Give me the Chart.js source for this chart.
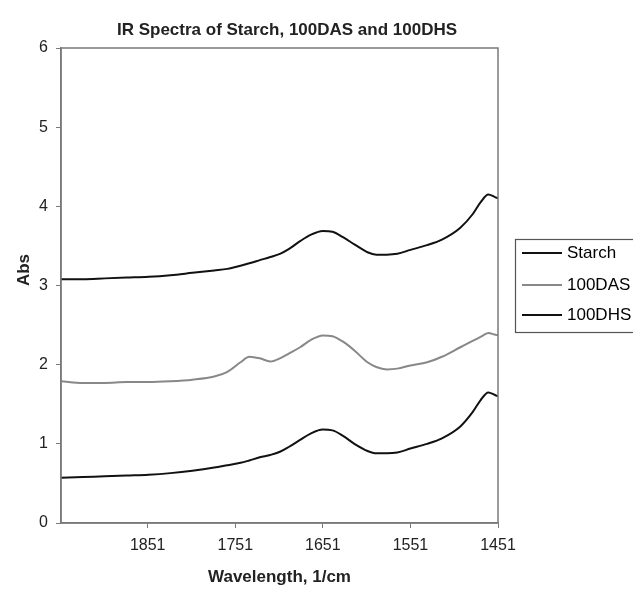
<!DOCTYPE html>
<html>
<head>
<meta charset="utf-8">
<script src="https://cdn.jsdelivr.net/npm/chart.js@4.4.1/dist/chart.umd.min.js"></script>
<style>
  html, body { margin: 0; padding: 0; background: #fff; }
  #wrap { width: 633px; height: 593px; }
</style>
</head>
<body>
<div id="wrap"><canvas id="irChart" width="633" height="593"></canvas></div>
<script>
// wavenumbers (1/cm)
var wavenumbers = [1950, 1925, 1900, 1875, 1850, 1825, 1800, 1775, 1760, 1745, 1735, 1723, 1711, 1700, 1690, 1677, 1665, 1651, 1640, 1628, 1615, 1600, 1590, 1578, 1566, 1551, 1532, 1515, 1494, 1480, 1471, 1462, 1455, 1451];
var starch = [3.08, 3.08, 3.09, 3.10, 3.11, 3.13, 3.16, 3.19, 3.21, 3.25, 3.28, 3.32, 3.36, 3.40, 3.46, 3.56, 3.64, 3.69, 3.68, 3.61, 3.52, 3.42, 3.39, 3.39, 3.40, 3.45, 3.51, 3.58, 3.73, 3.90, 4.05, 4.15, 4.12, 4.10];
var das100 = [1.79, 1.77, 1.77, 1.78, 1.78, 1.79, 1.81, 1.85, 1.91, 2.03, 2.10, 2.08, 2.04, 2.08, 2.14, 2.22, 2.31, 2.37, 2.36, 2.29, 2.18, 2.03, 1.97, 1.94, 1.95, 1.99, 2.03, 2.10, 2.22, 2.30, 2.35, 2.40, 2.38, 2.37];
var dhs100 = [0.57, 0.58, 0.59, 0.60, 0.61, 0.63, 0.66, 0.70, 0.73, 0.76, 0.79, 0.83, 0.86, 0.90, 0.96, 1.05, 1.13, 1.18, 1.17, 1.10, 1.00, 0.91, 0.88, 0.88, 0.89, 0.94, 1.00, 1.07, 1.22, 1.40, 1.55, 1.65, 1.62, 1.60];
var seriesNames = ['Starch', '100DAS', '100DHS'];
var xTicks = [1851, 1751, 1651, 1551, 1451];

function pts(vals) {
    return wavenumbers.map(function (w, i) { return { x: w, y: vals[i] }; });
}

var font = '"Liberation Sans", Arial, sans-serif';
var axisGrey = '#7a7a7a';

// plot frame, legend box and the titles
var extras = {
    id: 'extras',
    afterDatasetsDraw: function (chart) {
        var ctx = chart.ctx;
        var a = chart.chartArea;
        ctx.save();
        ctx.strokeStyle = axisGrey;
        ctx.lineWidth = 1.5;
        ctx.strokeRect(a.left, a.top, a.right - a.left, a.bottom - a.top);

        // legend
        ctx.strokeStyle = '#555';
        ctx.lineWidth = 1.2;
        ctx.strokeRect(515.5, 239.5, 140, 93);
        ctx.font = '17px ' + font;
        ctx.textBaseline = 'middle';
        ctx.fillStyle = '#000';
        var rows = [253, 285, 315];
        chart.data.datasets.forEach(function (ds, i) {
            ctx.beginPath();
            ctx.strokeStyle = ds.borderColor;
            ctx.lineWidth = ds.borderWidth;
            ctx.moveTo(522, rows[i]);
            ctx.lineTo(562, rows[i]);
            ctx.stroke();
            ctx.fillText(ds.label, 567, rows[i]);
        });

        // chart title
        ctx.fillStyle = '#222';
        ctx.textAlign = 'center';
        ctx.font = 'bold 17px ' + font;
        ctx.fillText('IR Spectra of Starch, 100DAS and 100DHS', 287, 30);

        // y axis title
        ctx.translate(24, 270);
        ctx.rotate(-Math.PI / 2);
        ctx.fillText('Abs', 0, 0);
        ctx.restore();
    }
};

new Chart(document.getElementById('irChart'), {
    type: 'line',
    data: {
        datasets: [
            {
                label: seriesNames[0],
                data: pts(starch),
                borderColor: '#111',
                borderWidth: 2,
                pointRadius: 0,
                cubicInterpolationMode: 'monotone'
            },
            {
                label: seriesNames[1],
                data: pts(das100),
                borderColor: '#888',
                borderWidth: 2,
                pointRadius: 0,
                cubicInterpolationMode: 'monotone'
            },
            {
                label: seriesNames[2],
                data: pts(dhs100),
                borderColor: '#111',
                borderWidth: 2,
                pointRadius: 0,
                cubicInterpolationMode: 'monotone'
            }
        ]
    },
    options: {
        responsive: false,
        animation: false,
        events: [],
        layout: { padding: { top: 48, right: 135, left: 0, bottom: 0 } },
        plugins: {
            legend: { display: false },
            tooltip: { enabled: false },
            title: { display: false }
        },
        scales: {
            x: {
                type: 'linear',
                reverse: true,
                min: 1451,
                max: 1950,
                afterBuildTicks: function (s) {
                    s.ticks = xTicks.map(function (v) { return { value: v }; });
                },
                afterFit: function (s) { s.height = 70; },
                border: { color: axisGrey, width: 1.5 },
                grid: { drawOnChartArea: false, tickLength: 5, color: axisGrey },
                ticks: {
                    color: '#222',
                    padding: 8,
                    maxRotation: 0,
                    font: { family: font, size: 16 },
                    callback: function (v) { return String(v); }
                },
                title: {
                    display: true,
                    text: 'Wavelength, 1/cm',
                    color: '#222',
                    font: { family: font, size: 17, weight: 'bold' },
                    padding: { top: 0, bottom: 5 }
                }
            },
            y: {
                min: 0,
                max: 6,
                afterFit: function (s) { s.width = 61; },
                border: { color: axisGrey, width: 1.5 },
                grid: { drawOnChartArea: false, tickLength: 5, color: axisGrey },
                ticks: {
                    stepSize: 1,
                    color: '#222',
                    padding: 8,
                    font: { family: font, size: 16 }
                }
            }
        }
    },
    plugins: [extras]
});
</script>
</body>
</html>
